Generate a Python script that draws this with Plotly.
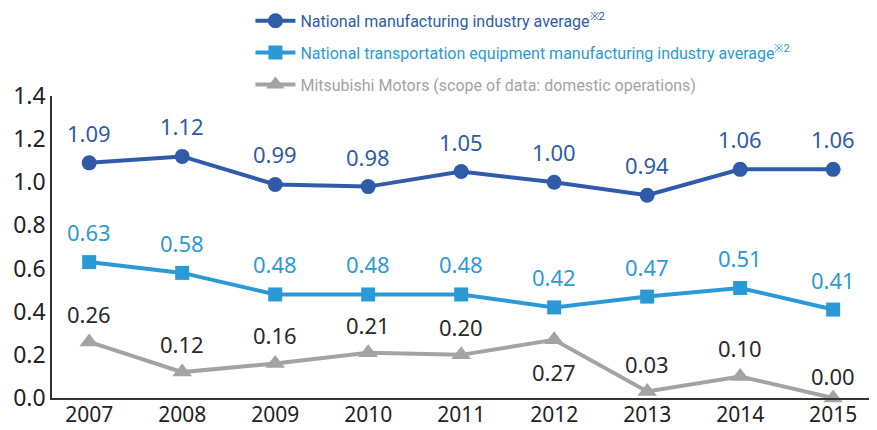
import plotly.graph_objects as go

years = [2007, 2008, 2009, 2010, 2011, 2012, 2013, 2014, 2015]
national_mfg = [1.09, 1.12, 0.99, 0.98, 1.05, 1.00, 0.94, 1.06, 1.06]
transport_mfg = [0.63, 0.58, 0.48, 0.48, 0.48, 0.42, 0.47, 0.51, 0.41]
mitsubishi = [0.26, 0.12, 0.16, 0.21, 0.20, 0.27, 0.03, 0.10, 0.00]
mitsubishi_label_pos = ["above", "above", "above", "above", "above", "below", "above", "above", "above"]

names = [
    "National manufacturing industry average<sup>※2</sup>",
    "National transportation equipment manufacturing industry average<sup>※2</sup>",
    "Mitsubishi Motors (scope of data: domestic operations)",
]
colors = ["#2f5ba8", "#2b9ad4", "#a3a3a3"]
label_colors = ["#2f5ba8", "#2b9ad4", "#2a2a2a"]
symbols = ["circle", "square", "triangle-up"]
msizes = [15, 14, 17]
series = [national_mfg, transport_mfg, mitsubishi]

fig = go.Figure()
for i, (vals, name) in enumerate(zip(series, names)):
    fig.add_trace(go.Scatter(
        x=years, y=vals, mode="lines+markers",
        name=f'<span style="color:{colors[i]}">{name}</span>',
        line=dict(color=colors[i], width=4),
        marker=dict(symbol=symbols[i], size=msizes[i], color=colors[i]),
        legendgroup=f"g{i}", cliponaxis=False,
    ))

annotations = []
for i, vals in enumerate(series):
    for j, (x, v) in enumerate(zip(years, vals)):
        shift = 30
        if i == 2:
            shift = 28 if mitsubishi_label_pos[j] == "above" else -32
            if j == 8:
                shift = 22
        annotations.append(dict(
            x=x, y=v, text=f"{v:.2f}", showarrow=False, yshift=shift,
            font=dict(size=22, color=label_colors[i], family="Noto Sans"),
        ))

# page has an 8px body margin, so the figure is drawn 8px smaller
fig.update_layout(
    width=869, height=422,
    margin=dict(l=44, r=2, t=88, b=32, autoexpand=False),
    paper_bgcolor="white", plot_bgcolor="white",
    showlegend=True,
    legend=dict(
        xref="container", yref="paper",
        x=0.279, y=1.305, xanchor="left", yanchor="top",
        font=dict(size=16, family="Roboto"),
        tracegroupgap=8, bgcolor="rgba(0,0,0,0)",
        itemwidth=40,
    ),
    annotations=annotations,
    font=dict(family="Noto Sans", color="#222222"),
)
fig.update_xaxes(
    range=[2006.6, 2015.45], tickvals=years, ticktext=[str(y) for y in years],
    showgrid=False, showline=True, linecolor="#333333", linewidth=1.5,
    ticks="", tickfont=dict(size=21, color="#222222"), zeroline=False,
    ticklabelstandoff=-3,
)
fig.update_yaxes(
    range=[0, 1.4], tickvals=[0, 0.2, 0.4, 0.6, 0.8, 1.0, 1.2, 1.4],
    ticktext=["0.0", "0.2", "0.4", "0.6", "0.8", "1.0", "1.2", "1.4"],
    showgrid=False, showline=True, linecolor="#333333", linewidth=1.5,
    ticks="", tickfont=dict(size=23, color="#222222"), zeroline=False,
)
fig.write_html("out.html")
